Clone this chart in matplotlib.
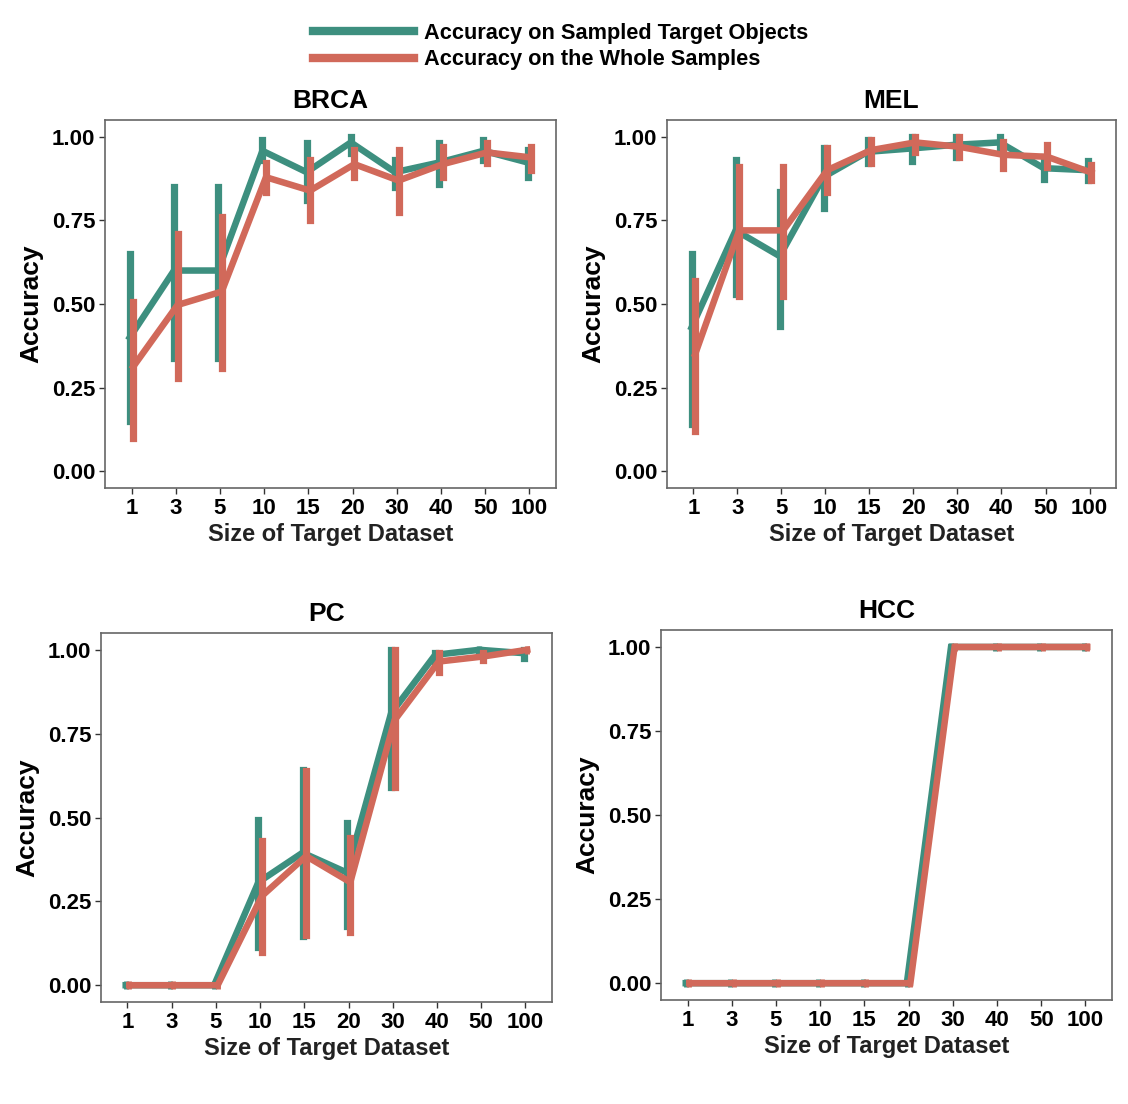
import matplotlib
matplotlib.use("Agg")
import matplotlib.pyplot as plt
import numpy as np

plt.rcParams['font.family'] = ['Liberation Sans', 'DejaVu Sans']
plt.rcParams['font.weight'] = 'bold'

sizes = ["1", "3", "5", "10", "15", "20", "30", "40", "50", "100"]
series_names = ["Accuracy on Sampled Target Objects", "Accuracy on the Whole Samples"]
colors = ["#3d8f7f", "#d1695a"]

# BRCA
brca_g = [0.40, 0.60, 0.60, 0.958, 0.894, 0.983, 0.894, 0.923, 0.958, 0.923]
brca_g_lo = [0.15, 0.34, 0.34, 0.93, 0.81, 0.95, 0.85, 0.86, 0.93, 0.88]
brca_g_hi = [0.65, 0.85, 0.85, 0.99, 0.98, 1.00, 0.93, 0.98, 0.99, 0.96]
brca_r = [0.313, 0.497, 0.537, 0.879, 0.839, 0.918, 0.869, 0.918, 0.953, 0.938]
brca_r_lo = [0.10, 0.28, 0.31, 0.834, 0.75, 0.88, 0.775, 0.88, 0.92, 0.90]
brca_r_hi = [0.507, 0.71, 0.76, 0.92, 0.93, 0.96, 0.96, 0.97, 0.98, 0.97]

# MEL
mel_g = [0.43, 0.72, 0.643, 0.88, 0.955, 0.965, 0.976, 0.983, 0.906, 0.90]
mel_g_lo = [0.14, 0.53, 0.435, 0.787, 0.92, 0.926, 0.94, 0.955, 0.875, 0.87]
mel_g_hi = [0.65, 0.93, 0.836, 0.965, 0.99, 1.00, 1.00, 1.00, 0.94, 0.926]
mel_r = [0.35, 0.72, 0.72, 0.90, 0.96, 0.983, 0.97, 0.946, 0.94, 0.893]
mel_r_lo = [0.12, 0.525, 0.525, 0.836, 0.92, 0.955, 0.94, 0.906, 0.91, 0.87]
mel_r_hi = [0.57, 0.91, 0.91, 0.965, 0.99, 1.00, 1.00, 0.985, 0.976, 0.916]

# PC
pc_g = [0.0, 0.0, 0.0, 0.307, 0.395, 0.336, 0.81, 0.985, 1.0, 0.99]
pc_g_lo = [0.0, 0.0, 0.0, 0.113, 0.146, 0.176, 0.59, 0.96, 0.99, 0.975]
pc_g_hi = [0.0, 0.0, 0.0, 0.494, 0.643, 0.485, 1.0, 0.99, 1.0, 1.0]
pc_r = [0.0, 0.0, 0.0, 0.266, 0.385, 0.307, 0.79, 0.965, 0.98, 1.0]
pc_r_lo = [0.0, 0.0, 0.0, 0.098, 0.15, 0.16, 0.59, 0.935, 0.97, 1.0]
pc_r_hi = [0.0, 0.0, 0.0, 0.43, 0.64, 0.44, 1.0, 0.99, 0.99, 1.0]

# HCC
hcc_g = [0, 0, 0, 0, 0, 0, 1, 1, 1, 1]
hcc_r = [0, 0, 0, 0, 0, 0, 1, 1, 1, 1]

panels = [
    ("BRCA", [0.0931, 0.558, 0.3998, 0.3333],
     (brca_g, brca_g_lo, brca_g_hi), (brca_r, brca_r_lo, brca_r_hi)),
    ("MEL", [0.5913, 0.558, 0.398, 0.3333],
     (mel_g, mel_g_lo, mel_g_hi), (mel_r, mel_r_lo, mel_r_hi)),
    ("PC", [0.0895, 0.0924, 0.3998, 0.3342],
     (pc_g, pc_g_lo, pc_g_hi), (pc_r, pc_r_lo, pc_r_hi)),
    ("HCC", [0.586, 0.0942, 0.3998, 0.335],
     (hcc_g, hcc_g, hcc_g), (hcc_r, hcc_r, hcc_r)),
]

fig = plt.figure(figsize=(11.28, 11.04), dpi=100)
x = np.arange(len(sizes))
offsets = [-0.04, 0.04]
handles = []
for title, rect, gdat, rdat in panels:
    ax = fig.add_axes(rect)
    for i, (dat, col) in enumerate(zip([gdat, rdat], colors)):
        m, lo, hi = [np.asarray(d, dtype=float) for d in dat]
        xx = x + offsets[i]
        ln, = ax.plot(xx, m, color=col, lw=4.7, solid_joinstyle='miter', zorder=2 + i)
        ax.plot(xx, m, linestyle='none', marker='|', markersize=5.2, markeredgewidth=3.5,
                color=col, zorder=1.5 + i)
        eb = ax.errorbar(xx, m, yerr=[m - lo, hi - m], fmt='none', ecolor=col,
                         elinewidth=5.2, capsize=0, zorder=2 + i)
        for c in eb[2]:
            c.set_capstyle('projecting')
        if title == "BRCA":
            handles.append(ln)
    ax.set_xlim(-0.6, len(sizes) - 0.4)
    ax.set_ylim(-0.05, 1.05)
    ax.set_xticks(x)
    ax.set_xticklabels(sizes)
    ax.set_yticks([0, 0.25, 0.5, 0.75, 1.0])
    ax.set_yticklabels(["0.00", "0.25", "0.50", "0.75", "1.00"])
    ax.tick_params(labelsize=16, length=4, width=1, color='#333333', pad=3)
    for s in ax.spines.values():
        s.set_color('#666666')
        s.set_linewidth(1.2)
    ax.set_title(title, fontsize=19, fontweight='bold', pad=9)
    ax.set_xlabel("Size of Target Dataset", fontsize=17, fontweight='bold', labelpad=3, color='#222222')
    ax.set_ylabel("Accuracy", fontsize=19, fontweight='bold', labelpad=6)

leg = fig.legend(handles, series_names, loc='upper center', bbox_to_anchor=(0.497, 0.997),
                 frameon=False, handlelength=4.6, handletextpad=0.45,
                 labelspacing=0.25, prop={'weight': 'bold', 'size': 15.7})
for l in leg.get_lines():
    l.set_linewidth(6)

fig.savefig("out.png", dpi=100)
